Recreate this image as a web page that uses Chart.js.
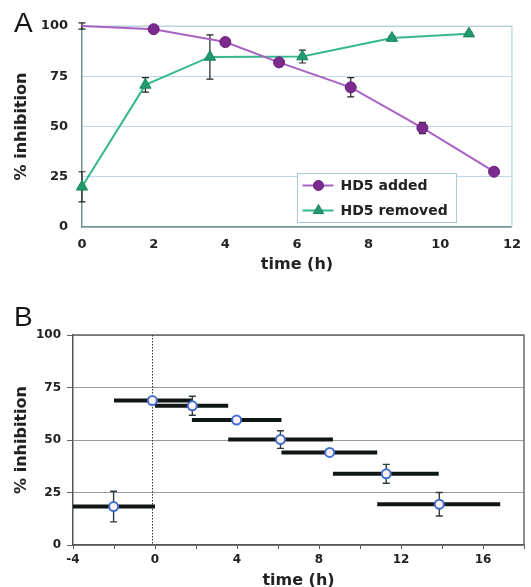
<!DOCTYPE html>
<html>
<head>
<meta charset="utf-8">
<title>HD5 inhibition</title>
<script src="https://cdn.jsdelivr.net/npm/chart.js@4.4.1/dist/chart.umd.min.js"></script>
<style>
    html, body { margin: 0; padding: 0; background: #fff; overflow: hidden; }
    body { width: 531px; height: 587px; position: relative; }
    .wrap { position: absolute; left: 0; }
    .panel-label {
        position: absolute;
        left: 14px;
        font: 28px/28px "Liberation Sans", Arial, sans-serif;
        color: #151515;
    }
</style>
</head>
<body>
<div class="wrap" style="top:0"><canvas id="chartA" width="531" height="274"></canvas></div>
<div class="wrap" style="top:290px"><canvas id="chartB" width="531" height="300"></canvas></div>
<div class="panel-label" style="top:9px">A</div>
<div class="panel-label" style="top:303px">B</div>

<script>
// Panel A: HD5 added / removed
const addedTime = [0, 2, 4, 5.5, 7.5, 9.5, 11.5];
const addedInhib = [100, 98.4, 92, 81.9, 69.5, 49.3, 27.5];
const addedErr = [1.6, 0.8, 1, 1, 4.8, 2.8, 1];

const removedTime = [0, 1.77, 3.57, 6.15, 8.65, 10.8];
const removedInhib = [20, 70.7, 84.6, 84.8, 94, 96.2];
const removedErr = [7.5, 3.6, 11, 3.2, 1, 0.8];

// Panel B: sliding exposure windows
const winStart = [-4, -2, 0, 1.8, 3.57, 6.17, 8.68, 10.84];
const winEnd = [0, 1.8, 3.57, 6.17, 8.68, 10.84, 13.84, 16.84];
const winTime = [-2.02, -0.13, 1.82, 3.98, 6.12, 8.52, 11.28, 13.87];
const winInhib = [18.3, 68.8, 66.3, 59.5, 50.2, 44.1, 33.9, 19.4];
const winErr = [7.3, 1.5, 4.5, 1.5, 4.2, 1, 4.5, 5.6];

// Tick labels
const yTicks = [0, 25, 50, 75, 100];
const xTicksA = [0, 2, 4, 6, 8, 10, 12];
const xTicksB = [-4, 0, 4, 8, 12, 16];

Chart.defaults.font.family = '"DejaVu Sans", Verdana, sans-serif';
Chart.defaults.color = '#222';

function toPoints(xs, ys) {
    return xs.map((x, i) => ({ x: x, y: ys[i] }));
}

// Vertical error bars, drawn just before the dataset that owns them
const errorBars = {
    id: 'errorBars',
    beforeDatasetDraw(chart, args) {
        const ds = chart.data.datasets[args.index];
        if (!ds.errors) return;
        const { ctx, scales: { x, y } } = chart;
        const cap = ds.errorCap || 3.5;
        ctx.save();
        ctx.strokeStyle = ds.errorColor || '#222';
        ctx.lineWidth = ds.errorWidth || 1.2;
        ds.data.forEach((p, i) => {
            const e = ds.errors[i];
            if (!e) return;
            const px = x.getPixelForValue(p.x);
            const top = y.getPixelForValue(p.y + e);
            const bot = y.getPixelForValue(p.y - e);
            ctx.beginPath();
            ctx.moveTo(px, top); ctx.lineTo(px, bot);
            ctx.moveTo(px - cap, top); ctx.lineTo(px + cap, top);
            ctx.moveTo(px - cap, bot); ctx.lineTo(px + cap, bot);
            ctx.stroke();
        });
        ctx.restore();
    }
};

// Top and right edges of the plot area
const frame = {
    id: 'frame',
    beforeDatasetsDraw(chart, args, opts) {
        const { ctx, chartArea: a } = chart;
        ctx.save();
        ctx.strokeStyle = opts.color;
        ctx.lineWidth = opts.width;
        ctx.beginPath();
        ctx.moveTo(a.left, a.top);
        ctx.lineTo(a.right, a.top);
        ctx.lineTo(a.right, a.bottom);
        ctx.stroke();
        ctx.restore();
    }
};

// Dotted marker line at time zero (panel B)
const zeroLine = {
    id: 'zeroLine',
    beforeDatasetsDraw(chart, args, opts) {
        const { ctx, chartArea: a, scales: { x } } = chart;
        const px = Math.round(x.getPixelForValue(opts.value)) + 0.5;
        ctx.save();
        ctx.strokeStyle = opts.color;
        ctx.lineWidth = 1;
        ctx.setLineDash([1.5, 1.5]);
        ctx.beginPath();
        ctx.moveTo(px, a.top);
        ctx.lineTo(px, a.bottom);
        ctx.stroke();
        ctx.restore();
    }
};

// Boxed legend inside the plot area (panel A)
const boxLegend = {
    id: 'boxLegend',
    afterDraw(chart, args, opts) {
        const { ctx, chartArea: a } = chart;
        const left = Math.round(a.left + opts.left) + 0.5;
        const top = Math.round(a.top + opts.top) + 0.5;
        ctx.save();
        ctx.fillStyle = '#fff';
        ctx.fillRect(left, top, opts.width, opts.height);
        ctx.strokeStyle = opts.borderColor;
        ctx.lineWidth = 1;
        ctx.strokeRect(left, top, opts.width, opts.height);
        ctx.font = 'bold 14px "DejaVu Sans", Verdana, sans-serif';
        ctx.textBaseline = 'middle';
        chart.data.datasets.forEach((ds, i) => {
            const y = top + opts.rowTop + i * opts.rowGap;
            ctx.strokeStyle = ds.borderColor;
            ctx.lineWidth = ds.borderWidth;
            ctx.beginPath();
            ctx.moveTo(left + 5, y);
            ctx.lineTo(left + 36, y);
            ctx.stroke();
            ctx.fillStyle = ds.pointBackgroundColor;
            ctx.strokeStyle = ds.pointBorderColor;
            ctx.lineWidth = 1;
            Chart.helpers.drawPoint(ctx, {
                pointStyle: ds.pointStyle, radius: ds.legendRadius, rotation: 0, borderWidth: 1
            }, left + 21, y);
            ctx.fillStyle = '#222';
            ctx.fillText(ds.label, left + 43, y + 1);
        });
        ctx.restore();
    }
};

function yAxis(width, extra) {
    return Object.assign({
        min: 0,
        max: 100,
        afterBuildTicks: s => { s.ticks = yTicks.map(v => ({ value: v })); },
        afterFit: s => { s.width = width; },
        title: {
            display: true,
            text: '% inhibition',
            font: { size: 16, weight: 'bold' },
            padding: { top: 0, bottom: 0 }
        }
    }, extra);
}

// Panel A chart
new Chart(document.getElementById('chartA'), {
    type: 'line',
    data: {
        datasets: [{
            label: 'HD5 added',
            data: toPoints(addedTime, addedInhib),
            errors: addedErr,
            borderColor: '#a862c2',
            borderWidth: 2,
            pointStyle: 'circle',
            pointRadius: ctx => ctx.dataIndex === 0 ? 0 : 5.5,
            pointBackgroundColor: '#7b2a8e',
            pointBorderColor: '#6a1f7c',
            pointBorderWidth: 1,
            legendRadius: 5,
            clip: false
        }, {
            label: 'HD5 removed',
            data: toPoints(removedTime, removedInhib),
            errors: removedErr,
            borderColor: '#35b890',
            borderWidth: 2,
            pointStyle: 'triangle',
            pointRadius: 6.5,
            pointBackgroundColor: '#1f9b6d',
            pointBorderColor: '#17865c',
            pointBorderWidth: 1,
            legendRadius: 6,
            clip: false
        }]
    },
    options: {
        responsive: false,
        animation: false,
        layout: { padding: { left: 12, top: 26, right: 17, bottom: 0 } },
        plugins: {
            legend: { display: false },
            tooltip: { enabled: false },
            frame: { color: '#b5d3de', width: 1.2 },
            boxLegend: {
                left: 215, top: 147, width: 159, height: 49,
                rowTop: 12, rowGap: 25, borderColor: '#a9cdd8'
            }
        },
        scales: {
            x: {
                type: 'linear',
                min: 0,
                max: 12,
                afterBuildTicks: s => { s.ticks = xTicksA.map(v => ({ value: v })); },
                afterFit: s => { s.height = 47; },
                grid: { display: false, drawTicks: false },
                border: { color: '#6f9494', width: 1.5 },
                ticks: { font: { size: 13, weight: 'bold' }, padding: 10, maxRotation: 0, autoSkip: false },
                title: {
                    display: true,
                    text: 'time (h)',
                    font: { size: 16, weight: 'bold' },
                    padding: { top: 0, bottom: 0 }
                }
            },
            y: yAxis(70, {
                grid: { color: '#bcd9e4', drawTicks: false },
                border: { color: '#6f9494', width: 1.5 },
                ticks: { font: { size: 13, weight: 'bold' }, padding: 14 }
            })
        }
    },
    plugins: [errorBars, frame, boxLegend]
});

// Panel B chart: markers first so they are drawn on top of the window bars
const windowSets = winStart.map((s, i) => ({
    data: [{ x: s, y: winInhib[i] }, { x: winEnd[i], y: winInhib[i] }],
    borderColor: '#101515',
    borderWidth: 4,
    borderCapStyle: 'butt',
    pointRadius: 0
}));

new Chart(document.getElementById('chartB'), {
    type: 'line',
    data: {
        datasets: [{
            data: toPoints(winTime, winInhib),
            errors: winErr,
            errorColor: '#2f3a40',
            errorWidth: 1.4,
            errorCap: 3.5,
            showLine: false,
            pointRadius: 4.5,
            pointBackgroundColor: '#fff2f6',
            pointBorderColor: '#3f6fd2',
            pointBorderWidth: 2,
            clip: false
        }].concat(windowSets)
    },
    options: {
        responsive: false,
        animation: false,
        layout: { padding: { left: 12, top: 45, right: 7, bottom: 0 } },
        plugins: {
            legend: { display: false },
            tooltip: { enabled: false },
            frame: { color: '#6a6a6a', width: 1.5 },
            zeroLine: { value: -0.15, color: '#333' }
        },
        scales: {
            x: {
                type: 'linear',
                min: -4,
                max: 18,
                afterFit: s => { s.height = 45; },
                grid: { drawOnChartArea: false, drawTicks: true, tickLength: 4, tickColor: '#555' },
                border: { color: '#555', width: 1.5 },
                ticks: {
                    stepSize: 2,
                    callback: v => xTicksB.includes(v) ? v : '',
                    font: { size: 12, weight: 'bold' },
                    padding: 4,
                    maxRotation: 0,
                    autoSkip: false
                },
                title: {
                    display: true,
                    text: 'time (h)',
                    font: { size: 16, weight: 'bold' },
                    padding: { top: 0, bottom: 0 }
                }
            },
            y: yAxis(61, {
                grid: { color: '#9a9a9a', tickLength: 6, tickColor: '#666' },
                border: { color: '#555', width: 1.5 },
                ticks: { font: { size: 12, weight: 'bold' }, padding: 6 }
            })
        }
    },
    plugins: [errorBars, frame, zeroLine]
});
</script>
</body>
</html>
